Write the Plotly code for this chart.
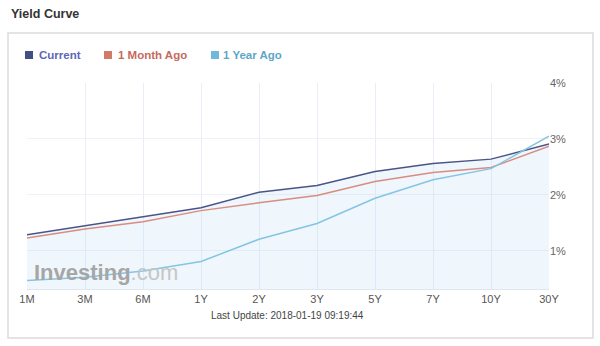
import plotly.graph_objects as go

maturities = ["1M", "3M", "6M", "1Y", "2Y", "3Y", "5Y", "7Y", "10Y", "30Y"]
current = [1.29, 1.45, 1.62, 1.77, 2.05, 2.17, 2.42, 2.56, 2.64, 2.91]
month_ago = [1.23, 1.39, 1.52, 1.72, 1.86, 1.99, 2.24, 2.40, 2.49, 2.87]
year_ago = [0.47, 0.53, 0.64, 0.81, 1.21, 1.49, 1.94, 2.27, 2.47, 3.05]
y_ticks = [1, 2, 3, 4]
y_tick_labels = ["1%", "2%", "3%", "4%"]
series_names = ["Current", "1 Month Ago", "1 Year Ago"]
last_update = "Last Update: 2018-01-19 09:19:44"

FONT = "Liberation Sans, Arial, sans-serif"
line_colors = ["#4a5487", "#d98c80", "#85c4e3"]
marker_colors = ["#434f80", "#d07a6a", "#6cb9dc"]
text_colors = ["#5c68b5", "#c56a5c", "#5da7c8"]

fig = go.Figure()
fig.add_trace(go.Scatter(x=maturities, y=current, mode="lines", name=series_names[0],
                         line=dict(color=line_colors[0], width=1.5),
                         fill="tozeroy", fillcolor="rgba(173,216,245,0.2)", showlegend=False))
fig.add_trace(go.Scatter(x=maturities, y=month_ago, mode="lines", name=series_names[1],
                         line=dict(color=line_colors[1], width=1.5), showlegend=False))
fig.add_trace(go.Scatter(x=maturities, y=year_ago, mode="lines", name=series_names[2],
                         line=dict(color=line_colors[2], width=1.5), showlegend=False))

L, R, T, B = 27, 51, 83, 57
W, H = 600, 346
pw, ph = W - L - R, H - T - B

def px_x(x):
    return (x - L) / pw

def px_y(y):
    return (H - B - y) / ph

shapes = [dict(type="rect", xref="paper", yref="paper",
               x0=px_x(8), x1=px_x(593), y0=px_y(338), y1=px_y(33),
               line=dict(color="#dcdcdc", width=1.5), fillcolor="rgba(0,0,0,0)", layer="below")]

annotations = [
    dict(text="<b>Yield Curve</b>", xref="paper", yref="paper", x=px_x(9), y=px_y(14),
         xanchor="left", yanchor="middle", showarrow=False,
         font=dict(family=FONT, size=12.5, color="#333333")),
    dict(text=last_update, xref="paper", yref="paper", x=px_x(287), y=px_y(315.5),
         xanchor="center", yanchor="middle", showarrow=False,
         font=dict(family=FONT, size=10, color="#444444")),
    dict(text="<b>Investing</b><span style='color:#c6c6c6'>.com</span>", xref="paper", yref="paper",
         x=px_x(32), y=px_y(272), xanchor="left", yanchor="middle", showarrow=False,
         font=dict(family=FONT, size=22, color="#a6a6a6")),
]

legend_sq_x = [25, 104, 211]
legend_txt_x = [37, 116, 221]
for i, name in enumerate(series_names):
    shapes.append(dict(type="rect", xref="paper", yref="paper",
                       x0=px_x(legend_sq_x[i]), x1=px_x(legend_sq_x[i] + 8),
                       y0=px_y(59), y1=px_y(51), line=dict(width=0),
                       fillcolor=marker_colors[i]))
    annotations.append(dict(text="<b>" + name + "</b>", xref="paper", yref="paper",
                            x=px_x(legend_txt_x[i]), y=px_y(55.5), xanchor="left", yanchor="middle",
                            showarrow=False, font=dict(family=FONT, size=11.5, color=text_colors[i])))

fig.update_layout(
    width=W, height=H,
    margin=dict(l=L, r=R, t=T, b=B),
    paper_bgcolor="white", plot_bgcolor="white",
    font=dict(family=FONT, size=11, color="#666666"),
    showlegend=False,
    shapes=shapes, annotations=annotations,
    xaxis=dict(type="category", range=[0, len(maturities) - 1], showgrid=True,
               gridcolor="#e8eef8", gridwidth=1, zeroline=False, showline=True,
               linecolor="#dfe6f0", linewidth=1, ticks="",
               tickfont=dict(family=FONT, size=11, color="#555555")),
    yaxis=dict(side="right", range=[0.32, 4.0], tickmode="array", tickvals=y_ticks,
               ticktext=y_tick_labels,
               showgrid=True, gridcolor="#eef1f7", gridwidth=1, zeroline=False,
               showline=False, ticks="", tickfont=dict(family=FONT, size=11, color="#666666")),
)

fig.write_html("out.html")
